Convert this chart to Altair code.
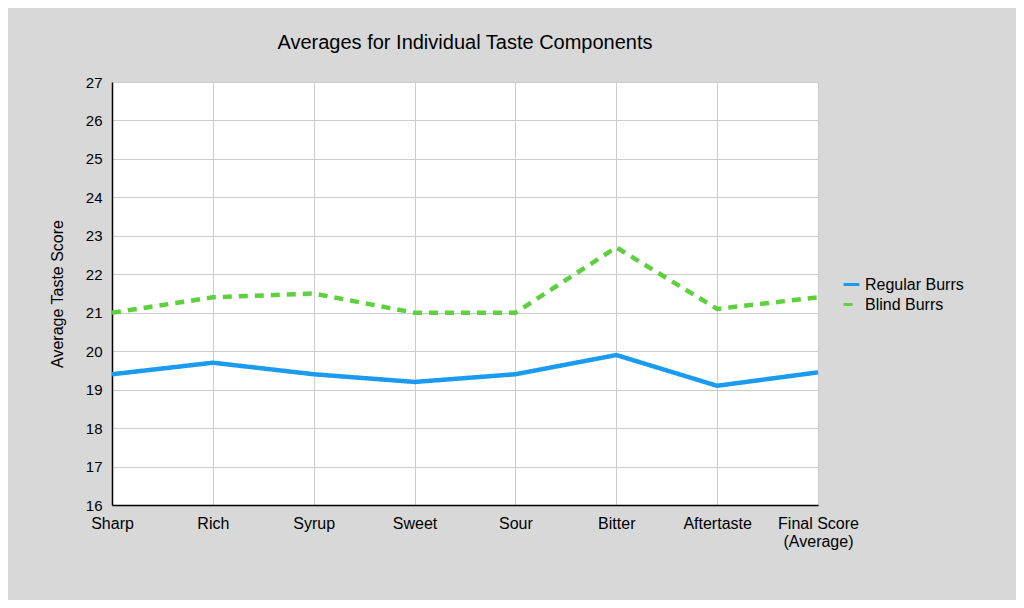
import altair as alt
import pandas as pd

categories = ["Sharp", "Rich", "Syrup", "Sweet", "Sour", "Bitter", "Aftertaste", "Final Score (Average)"]
regular = [19.4, 19.7, 19.4, 19.2, 19.4, 19.9, 19.1, 19.45]
blind = [21.0, 21.4, 21.5, 21.0, 21.0, 22.7, 21.1, 21.4]

rows = []
for c, r, b in zip(categories, regular, blind):
    rows.append({"cat": c, "series": "Regular Burrs", "value": r})
    rows.append({"cat": c, "series": "Blind Burrs", "value": b})
df = pd.DataFrame(rows)

font = "Liberation Sans"

chart = alt.Chart(df).mark_line(strokeWidth=4.5).encode(
    x=alt.X("cat:N", sort=categories, title=None,
            scale=alt.Scale(type="point", padding=0),
            axis=alt.Axis(labelAngle=0, domainColor="black", domainWidth=1.5, tickSize=0,
                          gridColor="#cccccc", grid=True, labelFontSize=16, labelColor="black",
                          labelPadding=10, labelFont=font,
                          labelExpr="datum.label == 'Final Score (Average)' ? ['Final Score', '(Average)'] : datum.label")),
    y=alt.Y("value:Q", title="Average Taste Score",
            scale=alt.Scale(domain=[16, 27], nice=False),
            axis=alt.Axis(values=list(range(16, 28)), domainColor="black", domainWidth=1.5, tickSize=0,
                          gridColor="#cccccc", labelFontSize=15, labelColor="black", labelPadding=10,
                          labelFont=font, titleFont=font, titleFontSize=16, titleFontWeight="normal",
                          titleColor="black", titlePadding=20)),
    color=alt.Color("series:N", sort=["Regular Burrs", "Blind Burrs"],
                    scale=alt.Scale(domain=["Regular Burrs", "Blind Burrs"], range=["#1a9bf0", "#5ed03f"]),
                    legend=alt.Legend(title=None, labelFontSize=16, labelFont=font, labelColor="black",
                                      symbolType="stroke", symbolStrokeWidth=3, symbolSize=250,
                                      orient="none", legendX=730, legendY=193)),
    strokeDash=alt.StrokeDash("series:N", sort=["Regular Burrs", "Blind Burrs"],
                              scale=alt.Scale(domain=["Regular Burrs", "Blind Burrs"], range=[[1, 0], [9, 7]]),
                              legend=None),
).properties(
    width=706, height=423,
    title=alt.Title("Averages for Individual Taste Components", fontSize=20, font=font,
                    fontWeight="normal", color="black", offset=22),
    autosize=alt.AutoSizeParams(type="none"),
    padding={"left": 104, "top": 74, "right": 198, "bottom": 95},
    background="#d8d8d8",
).configure_view(fill="white", stroke=None)

chart.save("out.html", embed_options={"renderer": "svg", "actions": False})
